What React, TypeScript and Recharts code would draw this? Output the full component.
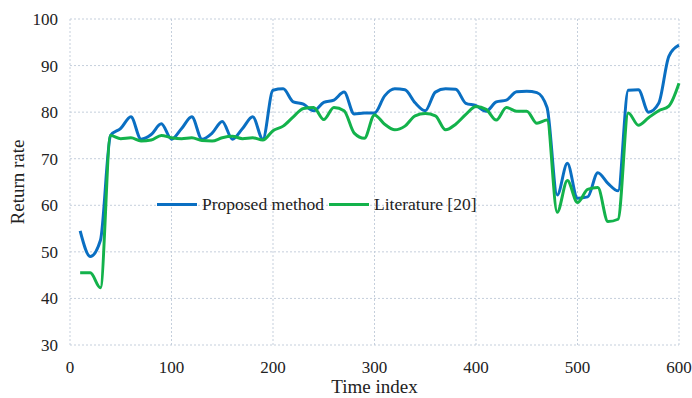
import { LineChart, Line, XAxis, YAxis, CartesianGrid } from "recharts";

const timeIndex = [
  10, 20, 30, 40, 50, 60, 70, 80, 90, 100, 110, 120, 130, 140, 150, 160, 170, 180, 190, 200,
  210, 220, 230, 240, 250, 260, 270, 280, 290, 300, 310, 320, 330, 340, 350, 360, 370, 380, 390, 400,
  410, 420, 430, 440, 450, 460, 470, 480, 490, 500, 510, 520, 530, 540, 550, 560, 570, 580, 590, 600,
];

const proposed = [
  54.5, 49, 52.5, 75, 76.5, 79, 74.2, 75.2, 77.5, 74.2, 76.5, 79, 74.2, 75.5, 78, 74.2, 76.5, 79, 74.2, 84.7,
  85, 82.2, 81.7, 80.3, 82.1, 82.6, 84.3, 79.6, 79.8, 79.8, 83.5, 85, 84.8, 82, 80.3, 84.3, 85, 84.9, 81.9, 81.4,
  80.2, 82.2, 82.6, 84.4, 84.5, 84.2, 81, 62.2, 69, 61.5, 61.8, 67, 64.7, 63.1, 84.7, 84.8, 80, 81.9, 92, 94.4,
];

const literature = [
  45.5, 45.5, 42.3, 75, 74.3, 74.5, 73.8, 74, 75, 74.5, 74.3, 74.5, 73.9, 73.8, 74.5, 74.8, 74.3, 74.5, 74, 76,
  77, 79, 80.8, 81, 78.4, 81, 80.3, 75.5, 74.4, 79.4, 77.4, 76.2, 77, 79.2, 79.7, 79.2, 76.2, 77.4, 79.5, 81.2,
  80.6, 78.3, 81, 80.2, 80.2, 77.6, 78.3, 58.5, 65.3, 60.6, 63.4, 63.8, 56.5, 57, 79.8, 77.2, 78.8, 80.3, 81.3, 86.2,
];

const xTicks = [0, 100, 200, 300, 400, 500, 600];
const yTicks = [30, 40, 50, 60, 70, 80, 90, 100];

const series = [
  { key: "proposed", name: "Proposed method", color: "#0a6fc2" },
  { key: "literature", name: "Literature [20]", color: "#13b24b" },
];

const data = timeIndex.map((t, i) => ({
  t,
  proposed: proposed[i],
  literature: literature[i],
}));

const font = '"Liberation Serif", "Times New Roman", serif';

// legend sits inside the plot, drawn as an overlay so it doesn't eat layout space
function ChartLegend() {
  return (
    <div
      style={{
        position: "absolute",
        left: 157,
        top: 194,
        display: "flex",
        alignItems: "center",
        fontFamily: font,
        fontSize: 17.5,
        color: "#222",
        whiteSpace: "nowrap",
      }}
    >
      {series.map((s) => (
        <span key={s.key} style={{ display: "flex", alignItems: "center", marginRight: 5 }}>
          <span style={{ display: "inline-block", width: 40, height: 3, background: s.color, marginRight: 5 }} />
          {s.name}
        </span>
      ))}
    </div>
  );
}

export default function App() {
  return (
    <div style={{ position: "absolute", left: 0, top: 0, width: 692, height: 398, background: "#fff" }}>
      <LineChart width={692} height={398} data={data} margin={{ top: 19, right: 13, bottom: 0, left: 0 }}>
        <CartesianGrid stroke="#c5cfdc" strokeDasharray="2 2" />
        <XAxis
          dataKey="t"
          type="number"
          domain={[0, 600]}
          ticks={xTicks}
          axisLine={false}
          tickLine={false}
          height={53}
          tickMargin={10}
          tick={{ fill: "#222", fontSize: 17, fontFamily: font }}
          label={{ value: "Time index", position: "insideBottom", offset: 5, fill: "#222", fontSize: 19, fontFamily: font }}
        />
        <YAxis
          type="number"
          domain={[30, 100]}
          ticks={yTicks}
          axisLine={false}
          tickLine={false}
          width={70}
          tickMargin={6}
          tick={{ fill: "#222", fontSize: 17, fontFamily: font }}
          label={{ value: "Return rate", angle: -90, position: "insideLeft", offset: 17, fill: "#222", fontSize: 19, fontFamily: font, style: { textAnchor: "middle" } }}
        />
        {series.map((s) => (
          <Line
            key={s.key}
            dataKey={s.key}
            name={s.name}
            type="monotone"
            stroke={s.color}
            strokeWidth={3}
            dot={false}
            activeDot={false}
            isAnimationActive={false}
          />
        ))}
      </LineChart>
      <ChartLegend />
    </div>
  );
}
